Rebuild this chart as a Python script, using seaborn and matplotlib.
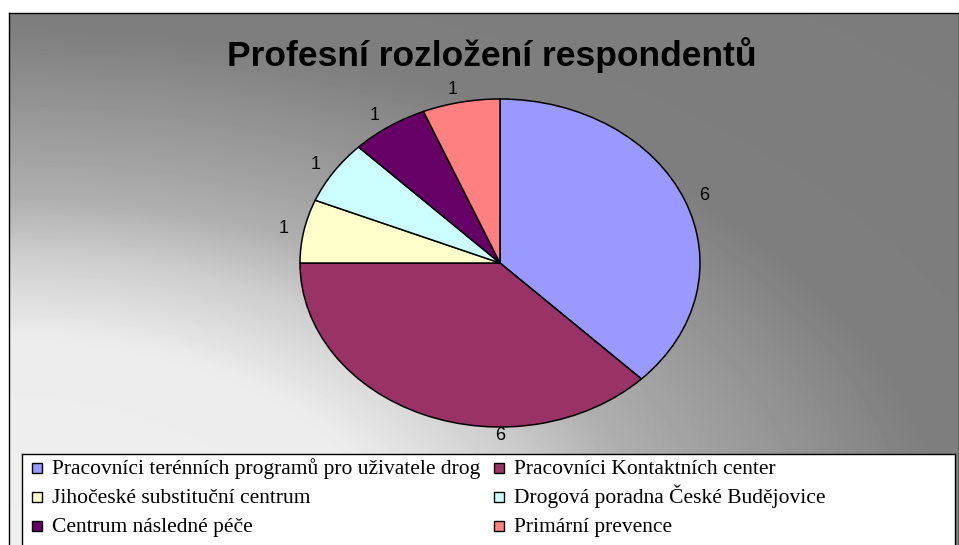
import numpy as np
import matplotlib as mpl
mpl.use('Agg')
import matplotlib.pyplot as plt
import matplotlib.patches as mpatches
import seaborn as sns

sns.set_theme(style="white")
plt.rcParams['font.family'] = ['Liberation Sans', 'DejaVu Sans']

title = "Profesní rozložení respondentů"
categories = ["Pracovníci terénních programů pro uživatele drog",
              "Pracovníci Kontaktních center",
              "Jihočeské substituční centrum",
              "Drogová poradna České Budějovice",
              "Centrum následné péče",
              "Primární prevence"]
counts = [6, 6, 1, 1, 1, 1]
colors = ["#9999FF", "#993366", "#FFFFCC", "#CCFFFF", "#660066", "#FF8080"]

W, H = 959, 545
fig = plt.figure(figsize=(W / 100, H / 100), dpi=100)
fig.patch.set_facecolor("white")


def fig_rect(x0, y0, x1, y1):
    # pixel box (top-left origin) -> figure fraction
    return [x0 / W, 1 - y1 / H, (x1 - x0) / W, (y1 - y0) / H]


# gray gradient background, light towards bottom-left
xs = np.arange(9, W) + 0.5
ys = np.arange(13, H) + 0.5
gx, gy = np.meshgrid(xs, ys)
t = np.sqrt((gx / 1000.0) ** 2 + ((gy - 560) / 560.0) ** 2)
grad = np.interp(t, [0, 0.4, 0.55, 0.65, 0.8, 0.95, 2.0],
                 [240, 236, 204, 174, 150, 126, 121])
bg = fig.add_axes(fig_rect(9, 13, W, H))
bg.imshow(grad, cmap="gray", vmin=0, vmax=255, aspect="auto", interpolation="bilinear")
bg.set_xticks([])
bg.set_yticks([])
for sp in bg.spines.values():
    sp.set_color("black")
    sp.set_linewidth(1)
bg.spines["bottom"].set_visible(False)

fig.text(492 / W, 1 - 55 / H, title, ha="center", va="center",
         fontsize=25.5, fontweight="bold", color="black")

# squashed pie: rx=200px, ry=164px around (500, 263)
cx, cy, rx, ry, L = 500, 263, 200, 164, 1.1
ax = fig.add_axes(fig_rect(cx - L * rx, cy - L * ry, cx + L * rx, cy + L * ry))
ax.patch.set_alpha(0)
pal = sns.color_palette(colors)
wedges, texts = ax.pie(counts, labels=[str(c) for c in counts], colors=pal,
                       startangle=90, counterclock=False, labeldistance=1.08,
                       wedgeprops=dict(edgecolor="black", linewidth=1.1),
                       textprops=dict(fontsize=13, color="black"))
ax.set_aspect("auto")
ax.set_xlim(-L, L)
ax.set_ylim(-L, L)
ax.axis("off")
# Excel puts the second label straight under the pie
texts[1].set_position((0.0, -1.05))
texts[1].set_horizontalalignment("center")

# legend box (drawn by hand so both columns share the same baselines)
lax = fig.add_axes(fig_rect(22, 454, 955, H + 2))
lax.set_facecolor("white")
lax.set_xticks([])
lax.set_yticks([])
for sp in lax.spines.values():
    sp.set_color("black")
    sp.set_linewidth(1)
lax.spines["bottom"].set_visible(False)

row_y = [468, 497, 526]
col_x = [32, 494]
box = 10
for i, (name, c) in enumerate(zip(categories, pal)):
    r, k = divmod(i, 2)
    x0, yc = col_x[k], row_y[r]
    lax.add_patch(mpatches.Rectangle((x0 / W, 1 - (yc + box / 2) / H), box / W, box / H,
                                     facecolor=c, edgecolor="black", linewidth=1,
                                     transform=fig.transFigure, clip_on=False))
    lax.text((x0 + box + 10) / W, 1 - (yc + 6) / H, name,
             transform=fig.transFigure, ha="left", va="baseline",
             family="Liberation Serif", fontsize=15.5, color="black")

fig.savefig("out.png", dpi=100)
